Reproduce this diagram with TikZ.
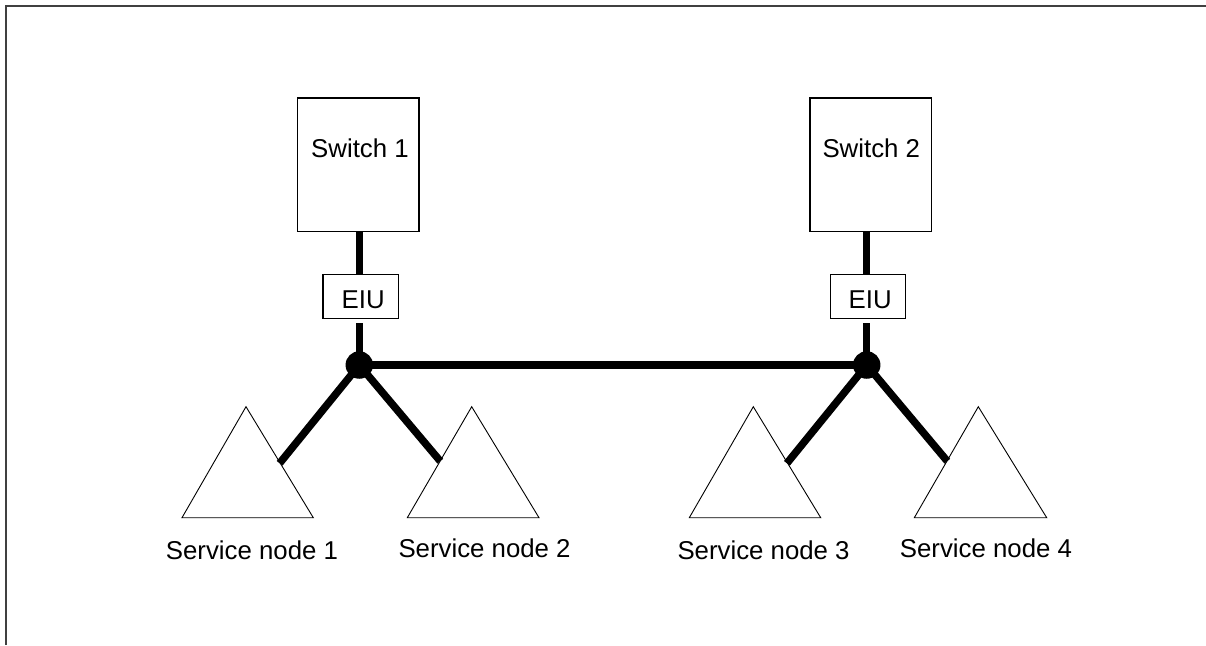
\documentclass[tikz,border=0pt]{standalone}
\usepackage{fontspec}
\setmainfont{Liberation Sans}
\begin{document}
\begin{tikzpicture}[x=1pt,y=-1pt,
  box/.style={draw=black,line width=1.4pt,fill=white,inner sep=0pt},
  lbl/.style={inner sep=0pt,anchor=base west,font=\fontsize{25.8}{30}\selectfont},
  bus/.style={line width=7.5pt,black},
  tri/.style={draw=black,line width=0.9pt},
  dot/.style={circle,fill=black,inner sep=0pt,minimum size=27.5pt},
  frame/.style={line width=1.8pt,black!75}]
\useasboundingbox (0,0) rectangle (1206,645);
\draw[frame] (6,645) -- (6,5.8) -- (1206,5.8);
% switches
\node[box,minimum width=121.3pt,minimum height=133.7pt] (sw1) at (358.35,164.85) {};
\node[box,minimum width=121.3pt,minimum height=133.7pt] (sw2) at (870.65,164.85) {};
\node[lbl] (sw1t) at (311,157.3) {Switch 1};
\node[lbl] (sw2t) at (822.3,157.3) {Switch 2};
% EIUs
\node[box,minimum width=75.3pt,minimum height=43.6pt] (eiu1) at (360.65,296.5) {};
\node[box,minimum width=75.3pt,minimum height=43.6pt] (eiu2) at (868,296.5) {};
\node[lbl] (eiu1t) at (341.5,308.3) {EIU};
\node[lbl] (eiu2t) at (848.5,308.3) {EIU};
% triangles
\draw[tri] (246,406.7) -- (313.3,517.7) -- (182,517.7) -- cycle;
\draw[tri] (471.7,406.7) -- (539,517.7) -- (407.3,517.7) -- cycle;
\draw[tri] (753.3,406.7) -- (820.7,517.7) -- (689.3,517.7) -- cycle;
\draw[tri] (978.3,406.7) -- (1046.7,517.7) -- (914.3,517.7) -- cycle;
\coordinate (b1) at (279.6,463.3);
\coordinate (b2) at (440.3,461.2);
\coordinate (b3) at (786.9,463.3);
\coordinate (b4) at (947.3,461.2);
% junctions
\node[dot] (j1) at (359.3,365) {};
\node[dot] (j2) at (866.7,365) {};
% connectors
\draw[bus] (sw1.south -| j1) -- (eiu1.north -| j1);
\draw[bus] (sw2.south -| j2) -- (eiu2.north -| j2);
\draw[bus] ([yshift=-4pt]eiu1.south -| j1) -- (j1.center);
\draw[bus] ([yshift=-4pt]eiu2.south -| j2) -- (j2.center);
\draw[bus] (j1.center) -- (j2.center);
\draw[bus] (j1.center) -- (b1);
\draw[bus] (j1.center) -- (b2);
\draw[bus] (j2.center) -- (b3);
\draw[bus] (j2.center) -- (b4);
% service node labels
\node[lbl] (s1) at (165.7,559) {Service node 1};
\node[lbl] (s2) at (398.3,557) {Service node 2};
\node[lbl] (s3) at (677.3,559) {Service node 3};
\node[lbl] (s4) at (899.7,557.3) {Service node 4};
\end{tikzpicture}
\end{document}
